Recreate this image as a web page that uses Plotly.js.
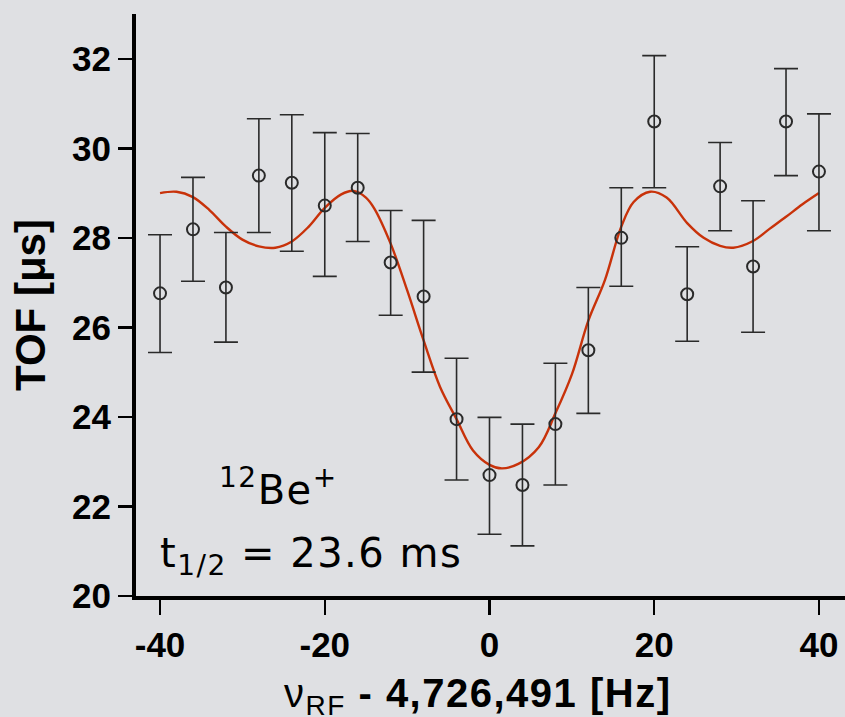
<!DOCTYPE html>
<html>
<head>
<meta charset="utf-8">
<script src="https://cdn.plot.ly/plotly-3.0.1.min.js"></script>
<style>
  html, body { margin: 0; padding: 0; background: #dfe0e3; }
  #chart { width: 845px; height: 717px; }
  .annotation-text { letter-spacing: 1.5px; }
</style>
</head>
<body>
<div id="chart"></div>
<script>
// Measured data (frequency offset in Hz, TOF in microseconds)
const freq = [-40, -36, -32, -28, -24, -20, -16, -12, -8, -4, 0, 4, 8, 12, 16, 20, 24, 28, 32, 36, 40];
const tof = [26.76, 28.19, 26.89, 29.39, 29.23, 28.72, 29.12, 27.45, 26.69, 23.95, 22.70, 22.48, 23.84, 25.49, 28.00, 30.60, 26.74, 29.15, 27.36, 30.60, 29.48];
const tofHigh = [28.07, 29.35, 28.12, 30.66, 30.75, 30.35, 30.33, 28.61, 28.39, 25.31, 23.99, 23.84, 25.20, 26.89, 29.12, 32.07, 27.80, 30.13, 28.83, 31.78, 30.77];
const tofLow = [25.44, 27.03, 25.67, 28.12, 27.70, 27.14, 27.92, 26.27, 25.00, 22.59, 21.38, 21.12, 22.48, 24.08, 26.92, 29.12, 25.69, 28.16, 25.89, 29.39, 28.16];

// Fit curve
const fitFreq = [-40, -38, -36, -34, -32, -30, -28, -26, -24, -22, -20, -18, -16.5, -15, -14, -12, -10, -8, -6, -4, -2, 0, 1.5, 3.5, 6, 8, 10, 12, 14, 16, 17.5, 19.5, 21.5, 24, 26, 28, 29.6, 32, 34, 36, 38, 40];
const fitTof = [29.00, 29.03, 28.91, 28.62, 28.25, 27.96, 27.81, 27.78, 27.92, 28.24, 28.67, 28.97, 29.05, 28.90, 28.66, 27.87, 26.83, 25.71, 24.67, 23.95, 23.25, 22.93, 22.85, 22.95, 23.33, 24.08, 24.95, 26.15, 27.05, 28.25, 28.80, 29.03, 28.90, 28.33, 28.00, 27.82, 27.78, 27.93, 28.20, 28.47, 28.75, 29.00];

const xTickVals = [-40, -20, 0, 20, 40];
const yTickVals = [20, 22, 24, 26, 28, 30, 32];

const xTitle = 'ν<sub>RF</sub><b> - 4,726,491 [Hz]</b>';
const yTitle = '<b>TOF [μs]</b>';

const errPlus = tofHigh.map((h, i) => h - tof[i]);
const errMinus = tofLow.map((l, i) => tof[i] - l);

const traces = [
  {
    x: fitFreq, y: fitTof, type: 'scatter', mode: 'lines',
    line: { color: '#c8320a', width: 2.4, shape: 'spline', smoothing: 1.0 },
    hoverinfo: 'skip'
  },
  {
    x: freq, y: tof, type: 'scatter', mode: 'markers',
    marker: { symbol: 'circle-open', size: 12, color: '#2a2a2a', line: { width: 2, color: '#2a2a2a' } },
    error_y: { type: 'data', symmetric: false, array: errPlus, arrayminus: errMinus,
               color: '#2a2a2a', thickness: 1.6, width: 12 }
  }
];

const layout = {
  width: 845, height: 717,
  paper_bgcolor: '#dfe0e3', plot_bgcolor: '#dfe0e3',
  margin: { l: 136, r: 0, t: 14, b: 121 },
  showlegend: false,
  font: { family: 'Liberation Sans, Arial, sans-serif', color: '#000' },
  xaxis: {
    range: [-42.918, 43.161],
    tickvals: xTickVals, ticktext: xTickVals.map(String),
    ticks: 'outside', ticklen: 15, tickwidth: 2.5, tickcolor: '#000',
    showline: true, linewidth: 4, linecolor: '#000',
    showgrid: false, zeroline: false,
    tickfont: { size: 35, weight: 'bold', family: 'Liberation Sans, Arial, sans-serif' }
  },
  yaxis: {
    range: [20, 33],
    tickvals: yTickVals, ticktext: yTickVals.map(String),
    ticks: 'outside', ticklen: 14, tickwidth: 2.5, tickcolor: '#000',
    showline: true, linewidth: 4, linecolor: '#000',
    showgrid: false, zeroline: false,
    tickfont: { size: 35, weight: 'bold', family: 'Liberation Sans, Arial, sans-serif' },
    title: { text: yTitle, font: { size: 42, family: 'Liberation Sans, Arial, sans-serif' }, standoff: 14 }
  },
  annotations: [
    {
      xref: 'paper', yref: 'paper', x: 0.482, y: -0.1254, xanchor: 'center', yanchor: 'top',
      text: xTitle, showarrow: false,
      font: { family: 'Liberation Sans, Arial, sans-serif', size: 40, color: '#000' }
    },
    {
      xref: 'x', yref: 'y', x: -33.1, y: 22.44, xanchor: 'left', yanchor: 'middle',
      text: '<sup>12</sup>Be<sup>+</sup>', showarrow: false,
      font: { family: 'DejaVu Sans, sans-serif', size: 40, color: '#000' }
    },
    {
      xref: 'x', yref: 'y', x: -40.2, y: 20.89, xanchor: 'left', yanchor: 'middle',
      text: 't<sub>1/2</sub> = 23.6 ms', showarrow: false,
      font: { family: 'DejaVu Sans, sans-serif', size: 40, color: '#000' }
    }
  ]
};

Plotly.newPlot('chart', traces, layout, { displayModeBar: false, staticPlot: true });
</script>
</body>
</html>
